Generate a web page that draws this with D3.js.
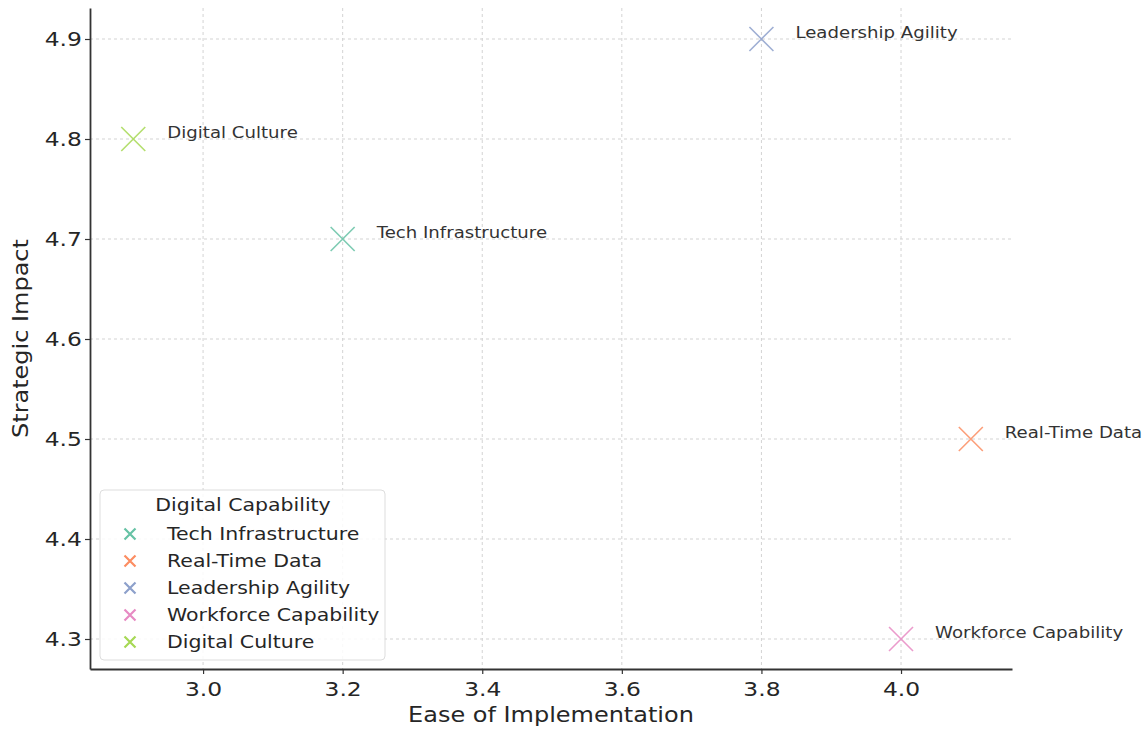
<!DOCTYPE html>
<html><head><meta charset="utf-8">
<script src="https://cdn.jsdelivr.net/npm/d3@7/dist/d3.min.js"></script>
<style>body{margin:0;background:#fff;} text{font-family:"DejaVu Sans",sans-serif;}</style>
</head><body><svg id="c" width="1148" height="729"></svg>
<script>
const categories = ["Tech Infrastructure","Real-Time Data","Leadership Agility","Workforce Capability","Digital Culture"];
const ease = [3.2, 4.1, 3.8, 4.0, 2.9];
const impact = [4.7, 4.5, 4.9, 4.3, 4.8];
const colors = ["#66c2a5","#fc8d62","#8da0cb","#e78ac3","#a6d854"];
const xTicks = [3.0,3.2,3.4,3.6,3.8,4.0];
const yTicks = [4.3,4.4,4.5,4.6,4.7,4.8,4.9];

const svg = d3.select("#c");
const L=90, R=1012, T=8, B=669;
const SX = 1.17;
const x = d3.scaleLinear().domain([2.838, 4.159]).range([L,R]);
const y = d3.scaleLinear().domain([4.27, 4.931]).range([B,T]);

// grid
svg.append("g").selectAll("line").data(xTicks).join("line")
  .attr("x1",d=>x(d)).attr("x2",d=>x(d)).attr("y1",T).attr("y2",B)
  .attr("stroke","#d3d3d3").attr("stroke-width",1).attr("stroke-dasharray","3,3");
svg.append("g").selectAll("line").data(yTicks).join("line")
  .attr("y1",d=>y(d)).attr("y2",d=>y(d)).attr("x1",L).attr("x2",R)
  .attr("stroke","#d3d3d3").attr("stroke-width",1).attr("stroke-dasharray","3,3");

// axes
const xa = svg.append("g").attr("transform",`translate(0,${B})`)
  .call(d3.axisBottom(x).tickValues(xTicks).tickFormat(d3.format(".1f")).tickSize(5).tickSizeOuter(0));
const ya = svg.append("g").attr("transform",`translate(${L},0)`)
  .call(d3.axisLeft(y).tickValues(yTicks).tickFormat(d3.format(".1f")).tickSize(5).tickSizeOuter(0));
[xa,ya].forEach(a=>{
  a.select(".domain").attr("stroke","#333").attr("stroke-width",1.8);
  a.selectAll(".tick line").attr("stroke","#333").attr("stroke-width",1.2);
  a.selectAll(".tick text").attr("fill","#262626").style("font-size","20px").style("font-family","DejaVu Sans")
    .attr("transform",`scale(${SX},1)`);
});
xa.selectAll(".tick text").attr("dy","0.95em");
ya.selectAll(".tick text").attr("x",-7);

function stext(parent, px, py, str, size, anchor){
  return parent.append("g").attr("transform",`translate(${px},${py}) scale(${SX},1)`)
    .append("text").attr("text-anchor",anchor||"start").attr("fill","#262626")
    .style("font-size",size+"px").text(str);
}
stext(svg,(L+R)/2,722,"Ease of Implementation",20.5,"middle");
svg.append("g").attr("transform",`translate(28,${(T+B)/2}) rotate(-90) scale(${SX},1)`)
  .append("text").attr("text-anchor","middle").attr("fill","#262626").style("font-size","20.5px").text("Strategic Impact");

// markers
const s = 12;
const pts = svg.append("g").selectAll("g").data(categories).join("g")
  .attr("transform",(d,i)=>`translate(${x(ease[i])},${y(impact[i])})`);
pts.append("path").attr("d",`M${-s},${-s}L${s},${s}M${-s},${s}L${s},${-s}`)
  .attr("stroke",(d,i)=>colors[i]).attr("stroke-width",1.6).attr("stroke-opacity",0.85).attr("fill","none");
pts.append("g").attr("transform",`translate(34,-6) scale(${SX},1)`)
  .append("text").attr("dy","0.35em").attr("fill","#333").style("font-size","15.5px").text(d=>d);

// legend
const lg = svg.append("g");
lg.append("rect").attr("x",100).attr("y",490).attr("width",285).attr("height",170).attr("rx",4)
  .attr("fill","#fff").attr("fill-opacity",0.85).attr("stroke","#ddd").attr("stroke-width",1);
stext(lg,243,511,"Digital Capability",17.5,"middle");
const le = lg.selectAll("g.e").data(categories).join("g").attr("class","e")
  .attr("transform",(d,i)=>`translate(130,${534+i*27})`);
const m=5.5;
le.append("path").attr("d",`M${-m},${-m}L${m},${m}M${-m},${m}L${m},${-m}`)
  .attr("stroke",(d,i)=>colors[i]).attr("stroke-width",2.2);
le.append("g").attr("transform",`translate(37,0) scale(${SX},1)`)
  .append("text").attr("dy","0.35em").attr("fill","#262626").style("font-size","17.5px").text(d=>d);
</script></body></html>
